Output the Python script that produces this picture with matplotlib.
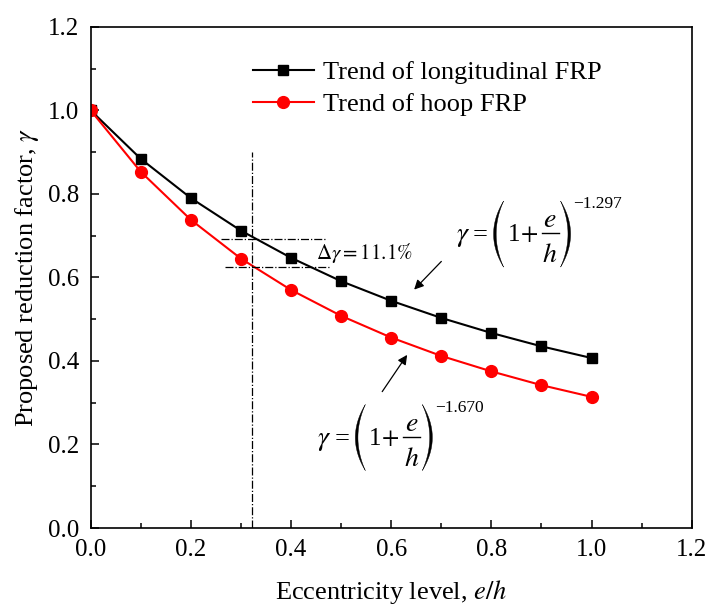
import matplotlib
matplotlib.use("Agg")
import matplotlib.pyplot as plt
import numpy as np
from matplotlib.ticker import MultipleLocator, FormatStrFormatter
from matplotlib.patches import Polygon
from matplotlib.lines import Line2D
from matplotlib.transforms import Affine2D

plt.rcParams['font.family'] = ['Liberation Serif', 'DejaVu Serif']
plt.rcParams['mathtext.fontset'] = 'stix'

# eccentricity levels e/h
ecc = [0.0, 0.1, 0.2, 0.3, 0.4, 0.5, 0.6, 0.7, 0.8, 0.9, 1.0]
gamma_long = [1.0, 0.884, 0.790, 0.712, 0.647, 0.591, 0.544, 0.503, 0.467, 0.435, 0.407]
gamma_hoop = [1.0, 0.853, 0.738, 0.645, 0.570, 0.508, 0.456, 0.412, 0.375, 0.342, 0.314]

DPI = 100
fig = plt.figure(figsize=(7.08, 6.09), dpi=DPI)
ax = fig.add_axes([0.128, 0.133, 0.849, 0.823])


def put(ax, s, x, y, dx, dy, size, ha='left'):
    # dx, dy in pixels from the anchor
    ax.annotate(s, xy=(x, y), xycoords='data', xytext=(dx * 72 / DPI, dy * 72 / DPI),
                textcoords='offset points', ha=ha, va='baseline', fontsize=size)


def paren(fig, left, px, py, x0, x1, h):
    # tall thin bracket, thick in the middle and thin at the ends
    t = np.linspace(-1, 1, 40)
    w = x1 - x0
    outer = w * t ** 2
    inner = 2.6 + (w - 2.6) * t ** 2
    if not left:
        outer, inner = w - outer, w - inner
    xs = np.concatenate([outer, inner[::-1]]) + x0 + px
    ys = np.concatenate([h * t, h * t[::-1]]) + py
    fig.add_artist(Polygon(np.column_stack([xs, ys]), closed=True, color='black', lw=0.3,
                           transform=Affine2D()))


def formula(ax, x, y, expo):
    px, py = ax.transData.transform((x, y))
    put(ax, r'$\gamma$', x, y, 0, -7, 20)
    put(ax, '=', x, y, 17, -7, 19)
    paren(fig, True, px, py, 38, 48, 33)
    put(ax, '1', x, y, 52, -7, 18)
    put(ax, r'$+$', x, y, 64, -7, 18)
    put(ax, r'$e$', x, y, 94.5, 7, 20, ha='center')
    fig.add_artist(Line2D([px + 86, px + 103], [py + 1, py + 1], color='black', lw=1.0,
                          transform=Affine2D()))
    put(ax, r'$h$', x, y, 94.5, -28, 20, ha='center')
    paren(fig, False, px, py, 105, 115, 33)
    put(ax, expo, x, y, 118, 26, 12.5)


ax.plot(ecc, gamma_long, '-s', color='black', lw=1.5, ms=7.7, label='Trend of longitudinal FRP')
ax.plot(ecc, gamma_hoop, '-o', color='red', lw=1.5, ms=8.5, label='Trend of hoop FRP')

ax.set_xlim(0, 1.2)
ax.set_ylim(0, 1.2)

# reference lines
ax.plot([0.323, 0.323], [0.0, 0.9], color='black', lw=0.9, ls='-.')
ax.plot([0.26, 0.472], [0.692, 0.692], color='black', lw=0.9, ls='-.')
ax.plot([0.269, 0.479], [0.625, 0.625], color='black', lw=0.9, ls='-.')
ax.text(0.449, 0.658, r'$\Delta\gamma = 11.1\%$', fontsize=15, va='center', ha='left')

formula(ax, 0.7286, 0.7037, '\u22121.297')
ax.annotate('', xy=(0.642, 0.566), xytext=(0.704, 0.643),
            arrowprops=dict(arrowstyle='-|>', color='black', lw=0.9, mutation_scale=14))

formula(ax, 0.4526, 0.2166, '\u22121.670')
ax.annotate('', xy=(0.635, 0.42), xytext=(0.579, 0.321),
            arrowprops=dict(arrowstyle='-|>', color='black', lw=0.9, mutation_scale=14))

ax.xaxis.set_major_locator(MultipleLocator(0.2))
ax.xaxis.set_minor_locator(MultipleLocator(0.1))
ax.yaxis.set_major_locator(MultipleLocator(0.2))
ax.yaxis.set_minor_locator(MultipleLocator(0.1))
ax.xaxis.set_major_formatter(FormatStrFormatter('%.1f'))
ax.yaxis.set_major_formatter(FormatStrFormatter('%.1f'))
ax.tick_params(which='both', direction='in', labelsize=18, width=1.1)
ax.tick_params(which='major', length=6)
ax.tick_params(which='minor', length=3.5)
ax.tick_params(axis='x', which='major', pad=8)
ax.tick_params(axis='y', which='major', pad=8.5)
for s in ax.spines.values():
    s.set_linewidth(1.2)

ax.set_xlabel('Eccentricity level, $e/h$', fontsize=19, labelpad=12)
ax.set_ylabel(r'Proposed reduction factor, $\gamma$', fontsize=19, labelpad=5)

ax.legend(loc='upper left', bbox_to_anchor=(0.27, 0.932), frameon=False, fontsize=19,
          handlelength=2.3, borderaxespad=0, borderpad=0, labelspacing=0.32, handletextpad=0.34)

fig.savefig('out.png', dpi=DPI)
